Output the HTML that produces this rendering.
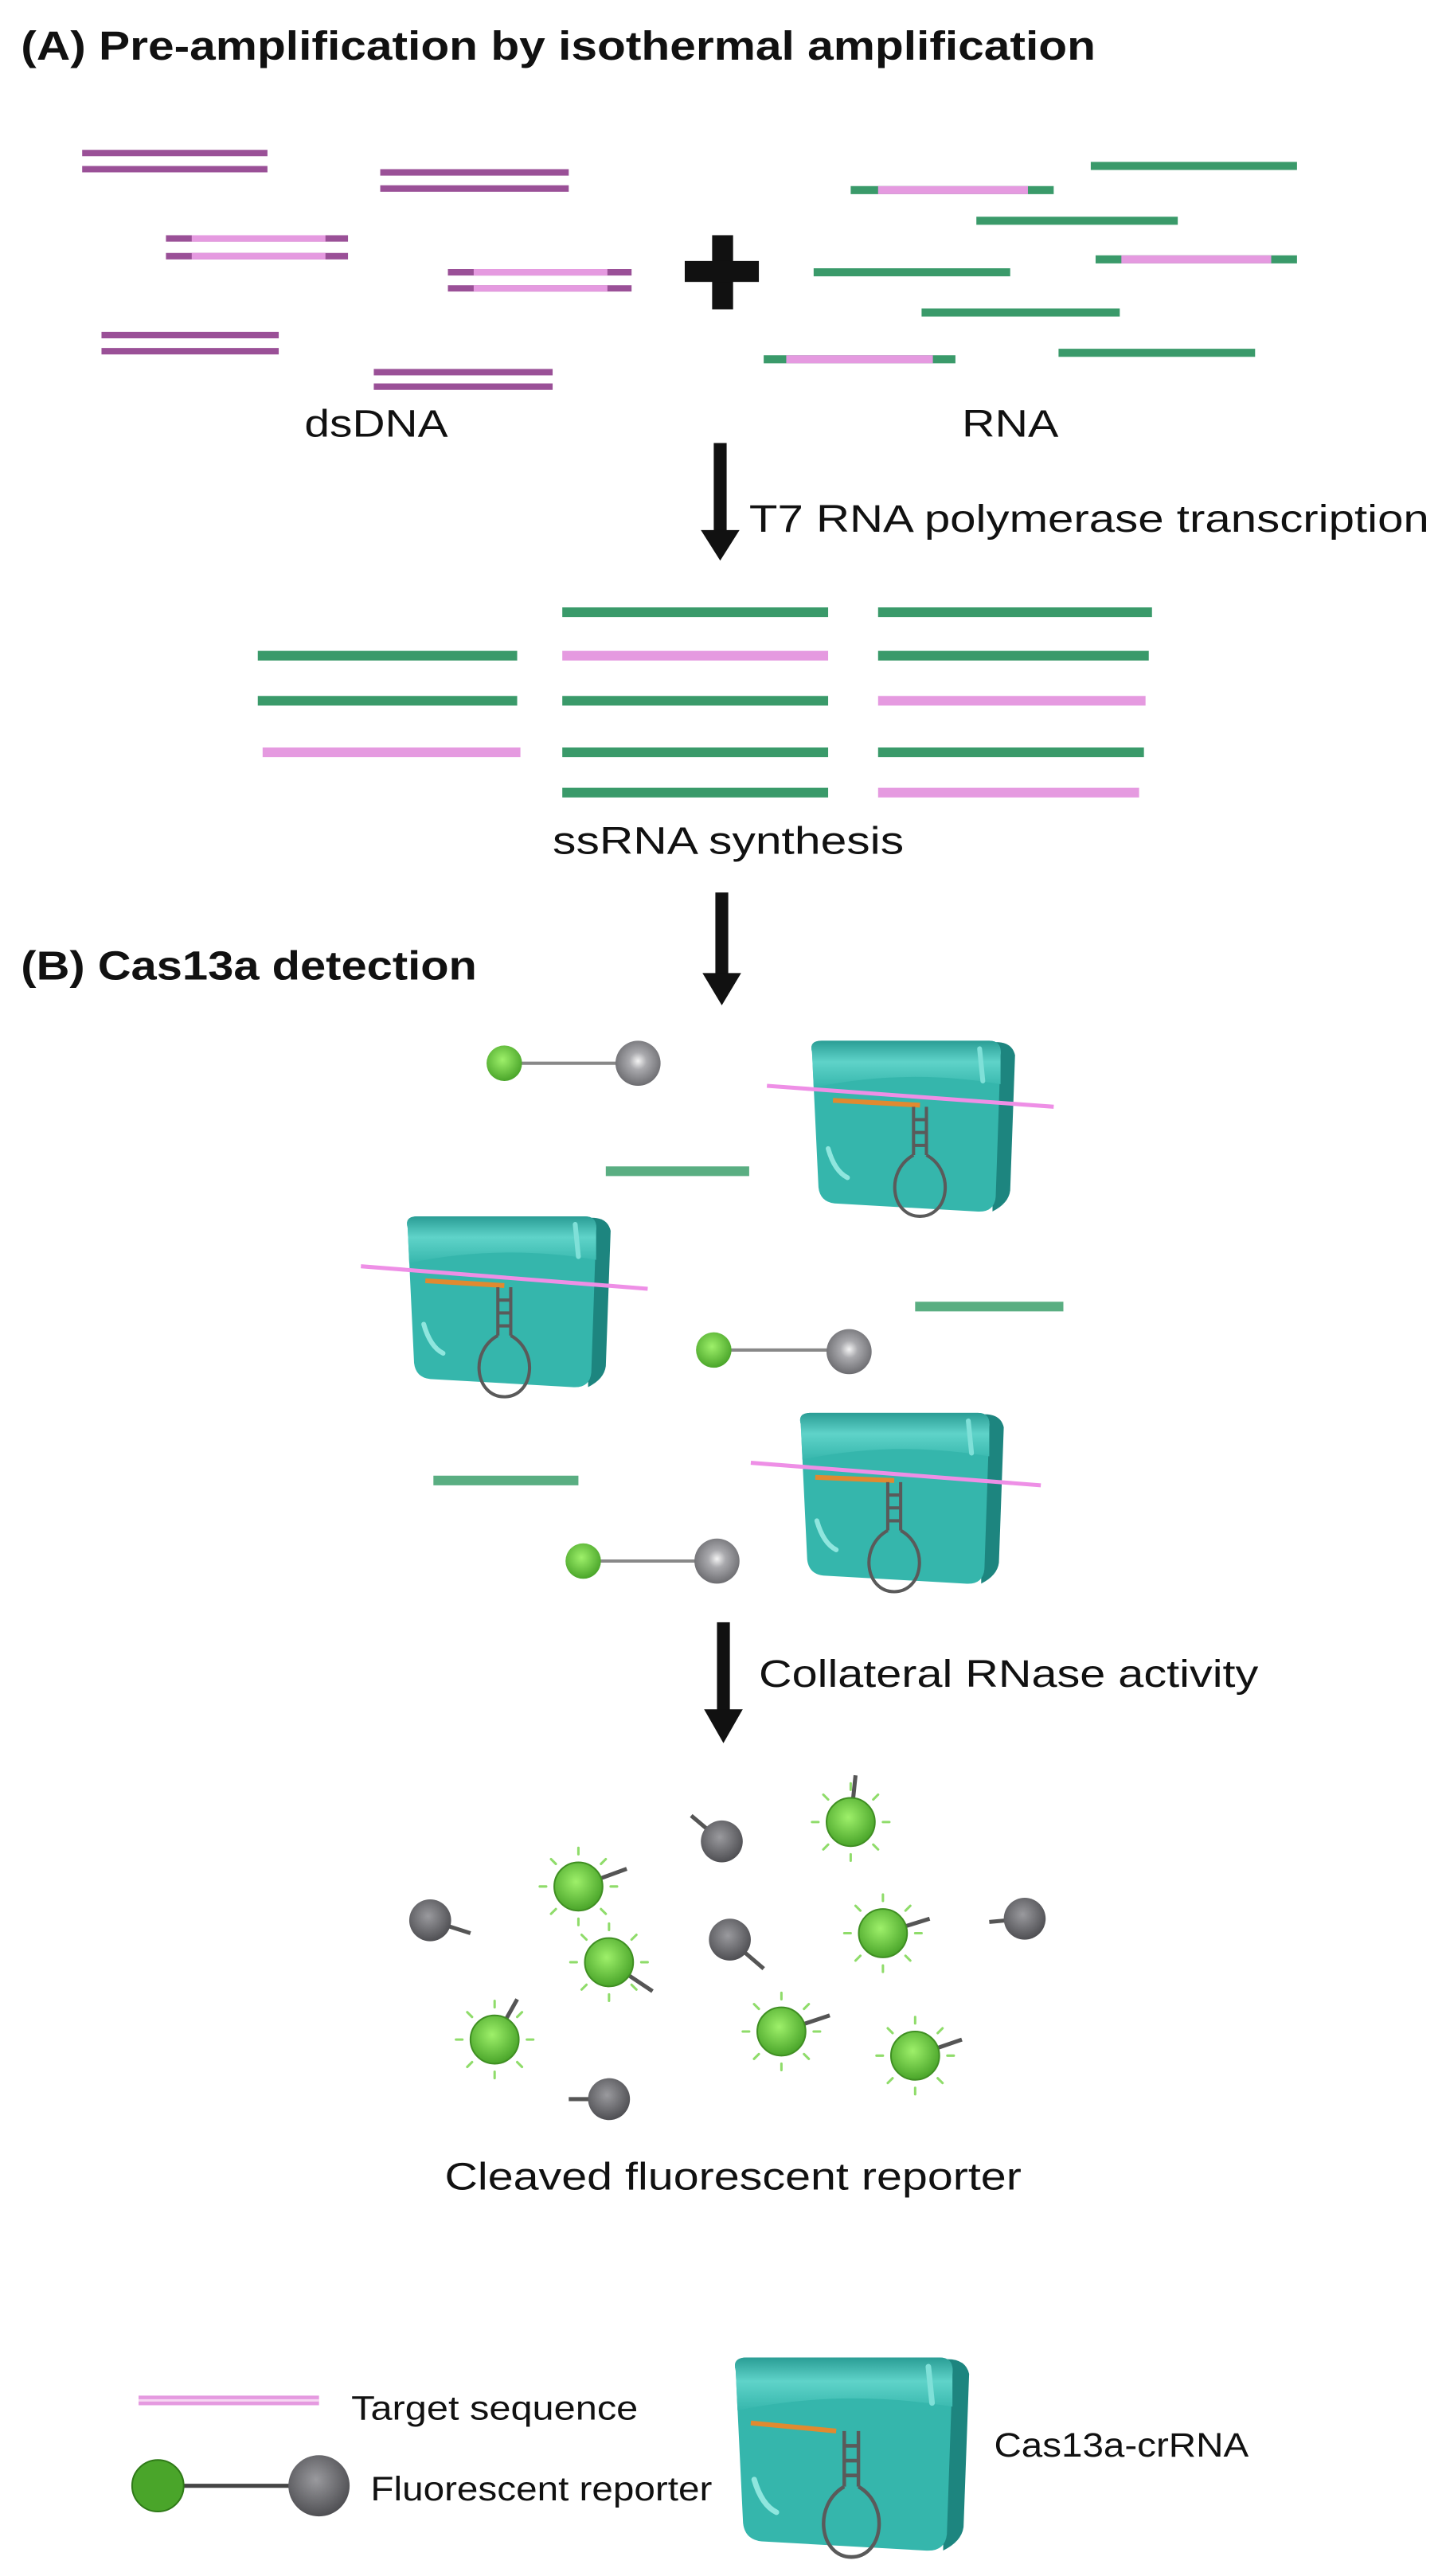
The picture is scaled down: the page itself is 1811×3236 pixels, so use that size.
<!DOCTYPE html>
<html><head><meta charset="utf-8"><style>
html,body{margin:0;padding:0;background:#fff}
svg{display:block}
text{font-family:"Liberation Sans Narrow","Liberation Sans",sans-serif;fill:#111}
.b{font-weight:bold}
</style></head><body>
<svg width="1811" height="3236" viewBox="0 0 895 1599" preserveAspectRatio="none" xmlns="http://www.w3.org/2000/svg">
<defs>
<radialGradient id="gb" cx="0.5" cy="0.45" r="0.55"><stop offset="0" stop-color="#f4f4f4"/><stop offset="0.35" stop-color="#a9a9ad"/><stop offset="1" stop-color="#6c6c70"/></radialGradient>
<radialGradient id="gd" cx="0.45" cy="0.4" r="0.6"><stop offset="0" stop-color="#9a9a9e"/><stop offset="1" stop-color="#4f4f53"/></radialGradient>
<radialGradient id="gg" cx="0.45" cy="0.4" r="0.6"><stop offset="0" stop-color="#9ef06a"/><stop offset="1" stop-color="#4aa52a"/></radialGradient>
<linearGradient id="lip" x1="0" y1="0" x2="0" y2="1"><stop offset="0" stop-color="#2a9d95"/><stop offset="0.45" stop-color="#5fd3c9"/><stop offset="1" stop-color="#37b7ad"/></linearGradient>
<g id="cas">
<path d="M116,4 Q128,3 130,12 L127,96 Q126,104 116,109 Z" fill="#1d857f"/>
<path d="M4,10 Q2,3 10,3 L114,3 Q122,3 121,12 L118,100 Q117,110 106,109 L18,104 Q9,103 8,94 Z" fill="#35b6ac"/>
<path d="M4,10 Q2,3 10,3 L114,3 Q122,3 121,12 L121,30 Q62,20 5,32 Z" fill="url(#lip)"/>
<path d="M14,70 Q18,84 26,88" stroke="#8fe6de" stroke-width="3" fill="none" stroke-linecap="round"/>
<path d="M108,8 L110,28" stroke="#7fe0d8" stroke-width="3" stroke-linecap="round"/>
</g>
<g id="hp" fill="none" stroke="#5a5a5a" stroke-width="2">
<line x1="0" y1="0" x2="0" y2="30"/><line x1="8" y1="0" x2="8" y2="30"/>
<line x1="0" y1="8" x2="8" y2="8"/><line x1="0" y1="16" x2="8" y2="16"/><line x1="0" y1="24" x2="8" y2="24"/>
<path d="M0,30 C-18,40 -14,68 4,68 C22,68 26,40 8,30"/>
</g>
<g id="glow" stroke="#8fdc6a" stroke-width="1.5" stroke-linecap="round">
<line x1="0" y1="-20" x2="0" y2="-24"/><line x1="14" y1="-14" x2="17" y2="-17"/><line x1="20" y1="0" x2="24" y2="0"/><line x1="14" y1="14" x2="17" y2="17"/>
<line x1="0" y1="20" x2="0" y2="24"/><line x1="-14" y1="14" x2="-17" y2="17"/><line x1="-20" y1="0" x2="-24" y2="0"/><line x1="-14" y1="-14" x2="-17" y2="-17"/>
</g>
</defs>

<!-- Title A -->
<text x="13" y="37" font-size="25" class="b" textLength="667" lengthAdjust="spacingAndGlyphs">(A) Pre-amplification by isothermal amplification</text>

<!-- dsDNA -->
<g stroke-width="4" stroke-linecap="butt">
<g stroke="#9a5097"><line x1="51" y1="95" x2="166" y2="95"/><line x1="51" y1="105" x2="166" y2="105"/>
<line x1="236" y1="107" x2="353" y2="107"/><line x1="236" y1="117" x2="353" y2="117"/>
<line x1="63" y1="208" x2="173" y2="208"/><line x1="63" y1="218" x2="173" y2="218"/>
<line x1="232" y1="231" x2="343" y2="231"/><line x1="232" y1="240" x2="343" y2="240"/>
<line x1="103" y1="148" x2="216" y2="148"/><line x1="103" y1="159" x2="216" y2="159"/>
<line x1="278" y1="169" x2="392" y2="169"/><line x1="278" y1="179" x2="392" y2="179"/></g>
<g stroke="#e59ae0"><line x1="119" y1="148" x2="202" y2="148"/><line x1="119" y1="159" x2="202" y2="159"/>
<line x1="294" y1="169" x2="377" y2="169"/><line x1="294" y1="179" x2="377" y2="179"/></g>
</g>
<!-- plus -->
<rect x="442" y="146" width="13" height="46" fill="#111"/><rect x="425" y="162" width="46" height="13" fill="#111"/>
<!-- RNA -->
<g stroke-width="5">
<g stroke="#3a9a6a">
<line x1="528" y1="118" x2="654" y2="118"/><line x1="677" y1="103" x2="805" y2="103"/>
<line x1="606" y1="137" x2="731" y2="137"/><line x1="680" y1="161" x2="805" y2="161"/>
<line x1="505" y1="169" x2="627" y2="169"/><line x1="572" y1="194" x2="695" y2="194"/>
<line x1="474" y1="223" x2="593" y2="223"/><line x1="657" y1="219" x2="779" y2="219"/></g>
<g stroke="#e59ae0"><line x1="545" y1="118" x2="638" y2="118"/><line x1="696" y1="161" x2="789" y2="161"/><line x1="488" y1="223" x2="579" y2="223"/></g>
</g>
<text x="189" y="271" font-size="24" textLength="89" lengthAdjust="spacingAndGlyphs">dsDNA</text>
<text x="597" y="271" font-size="24" textLength="60" lengthAdjust="spacingAndGlyphs">RNA</text>

<!-- Arrow 1 -->
<rect x="443" y="275" width="8" height="56" fill="#111"/><polygon points="435,329 459,329 447,348" fill="#111"/>
<text x="465" y="330" font-size="24" textLength="422" lengthAdjust="spacingAndGlyphs">T7 RNA polymerase transcription</text>

<!-- ssRNA -->
<g stroke-width="6">
<g stroke="#3a9a6a">
<line x1="160" y1="407" x2="321" y2="407"/><line x1="160" y1="435" x2="321" y2="435"/>
<line x1="349" y1="380" x2="514" y2="380"/><line x1="349" y1="435" x2="514" y2="435"/><line x1="349" y1="467" x2="514" y2="467"/><line x1="349" y1="492" x2="514" y2="492"/>
<line x1="545" y1="380" x2="715" y2="380"/><line x1="545" y1="407" x2="713" y2="407"/><line x1="545" y1="467" x2="710" y2="467"/></g>
<g stroke="#e59ae0">
<line x1="163" y1="467" x2="323" y2="467"/><line x1="349" y1="407" x2="514" y2="407"/>
<line x1="545" y1="435" x2="711" y2="435"/><line x1="545" y1="492" x2="707" y2="492"/></g>
</g>
<text x="343" y="530" font-size="24" textLength="218" lengthAdjust="spacingAndGlyphs">ssRNA synthesis</text>

<!-- Arrow 2 -->
<rect x="444" y="554" width="8" height="52" fill="#111"/><polygon points="436,604 460,604 448,624" fill="#111"/>
<text x="13" y="608" font-size="25" class="b" textLength="283" lengthAdjust="spacingAndGlyphs">(B) Cas13a detection</text>

<!-- reporters -->
<g stroke="#888" stroke-width="2">
<line x1="313" y1="660" x2="396" y2="660"/><line x1="443" y1="838" x2="527" y2="838"/><line x1="362" y1="969" x2="445" y2="969"/></g>
<g fill="url(#gg)"><circle cx="313" cy="660" r="11"/><circle cx="443" cy="838" r="11"/><circle cx="362" cy="969" r="11"/></g>
<g fill="url(#gb)"><circle cx="396" cy="660" r="14"/><circle cx="527" cy="839" r="14"/><circle cx="445" cy="969" r="14"/></g>

<!-- green bars -->
<g stroke="#5aae82" stroke-width="6"><line x1="376" y1="727" x2="465" y2="727"/><line x1="568" y1="811" x2="660" y2="811"/><line x1="269" y1="919" x2="359" y2="919"/></g>

<!-- Cas boxes -->
<use href="#cas" transform="translate(500,643)"/>
<line x1="476" y1="674" x2="654" y2="687" stroke="#ee8fe6" stroke-width="2.5"/>
<line x1="517" y1="683" x2="571" y2="686" stroke="#e08a30" stroke-width="3"/>
<use href="#hp" transform="translate(567,687)"/>

<use href="#cas" transform="translate(249,752)"/>
<line x1="224" y1="786" x2="402" y2="800" stroke="#ee8fe6" stroke-width="2.5"/>
<line x1="264" y1="795" x2="313" y2="798" stroke="#e08a30" stroke-width="3"/>
<use href="#hp" transform="translate(309,799)"/>

<use href="#cas" transform="translate(493,874)"/>
<line x1="466" y1="908" x2="646" y2="922" stroke="#ee8fe6" stroke-width="2.5"/>
<line x1="506" y1="917" x2="555" y2="919" stroke="#e08a30" stroke-width="3"/>
<use href="#hp" transform="translate(551,920)"/>

<!-- Arrow 3 -->
<rect x="445" y="1007" width="8" height="56" fill="#111"/><polygon points="437,1061 461,1061 449,1082" fill="#111"/>
<text x="471" y="1047" font-size="24" textLength="310" lengthAdjust="spacingAndGlyphs">Collateral RNase activity</text>

<!-- cleaved -->
<g stroke="#555" stroke-width="2.5">
<line x1="448" y1="1143" x2="429" y2="1127"/><line x1="267" y1="1192" x2="292" y2="1200"/>
<line x1="453" y1="1204" x2="474" y2="1222"/><line x1="636" y1="1191" x2="614" y2="1193"/>
<line x1="378" y1="1303" x2="353" y2="1303"/>
<line x1="528" y1="1131" x2="531" y2="1102"/><line x1="359" y1="1171" x2="389" y2="1160"/>
<line x1="548" y1="1200" x2="577" y2="1191"/><line x1="378" y1="1218" x2="405" y2="1236"/>
<line x1="307" y1="1266" x2="321" y2="1241"/><line x1="485" y1="1261" x2="515" y2="1251"/>
<line x1="568" y1="1276" x2="597" y2="1266"/></g>
<g fill="url(#gd)"><circle cx="448" cy="1143" r="13"/><circle cx="267" cy="1192" r="13"/><circle cx="453" cy="1204" r="13"/><circle cx="636" cy="1191" r="13"/><circle cx="378" cy="1303" r="13"/></g>
<g>
<use href="#glow" transform="translate(528,1131)"/><use href="#glow" transform="translate(359,1171)"/>
<use href="#glow" transform="translate(548,1200)"/><use href="#glow" transform="translate(378,1218)"/>
<use href="#glow" transform="translate(307,1266)"/><use href="#glow" transform="translate(485,1261)"/>
<use href="#glow" transform="translate(568,1276)"/></g>
<g fill="url(#gg)" stroke="#3f8f22" stroke-width="1">
<circle cx="528" cy="1131" r="15"/><circle cx="359" cy="1171" r="15"/><circle cx="548" cy="1200" r="15"/><circle cx="378" cy="1218" r="15"/>
<circle cx="307" cy="1266" r="15"/><circle cx="485" cy="1261" r="15"/><circle cx="568" cy="1276" r="15"/></g>
<text x="276" y="1359" font-size="24" textLength="358" lengthAdjust="spacingAndGlyphs">Cleaved  fluorescent  reporter</text>

<!-- Legend -->
<line x1="86" y1="1490" x2="198" y2="1490" stroke="#e59ae0" stroke-width="6"/>
<line x1="86" y1="1490" x2="198" y2="1490" stroke="#f7d7f3" stroke-width="1.5"/>
<text x="218" y="1502" font-size="21" textLength="178" lengthAdjust="spacingAndGlyphs">Target sequence</text>
<line x1="98" y1="1543" x2="198" y2="1543" stroke="#444" stroke-width="2.5"/>
<circle cx="98" cy="1543" r="16" fill="#4aa52a" stroke="#2f7a18" stroke-width="1"/>
<circle cx="198" cy="1543" r="19" fill="url(#gd)"/>
<text x="230" y="1552" font-size="21" textLength="212" lengthAdjust="spacingAndGlyphs">Fluorescent reporter</text>
<use href="#cas" transform="translate(452,1460) scale(1.15,1.13)"/>
<line x1="466" y1="1504" x2="519" y2="1509" stroke="#e08a30" stroke-width="3"/>
<use href="#hp" transform="translate(524,1509) scale(1.1,1.15)"/>
<text x="617" y="1525" font-size="21" textLength="158" lengthAdjust="spacingAndGlyphs">Cas13a-crRNA</text>
</svg>
</body></html>
